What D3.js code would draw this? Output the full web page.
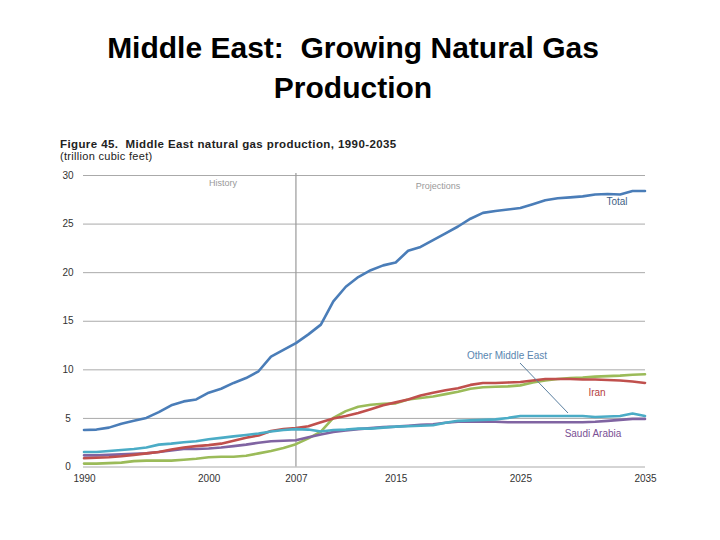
<!DOCTYPE html>
<html><head><meta charset="utf-8">
<script src="https://cdn.jsdelivr.net/npm/d3@7"></script>
<style>
html,body{margin:0;padding:0;background:#fff;}
svg{display:block;}
</style></head>
<body>
<svg id="chart" width="720" height="540"></svg>
<script>
const years = d3.range(1990, 2036);
const xTickYears = [1990, 2000, 2007, 2015, 2025, 2035];
const yTicks = [0, 5, 10, 15, 20, 25, 30];

const total = [3.75,3.8,4.0,4.4,4.7,5.0,5.6,6.3,6.7,6.9,7.6,8.0,8.6,9.1,9.8,11.3,12.0,12.7,13.6,14.6,17.0,18.5,19.5,20.2,20.7,21.0,22.2,22.6,23.3,24.0,24.7,25.5,26.1,26.3,26.45,26.6,27.0,27.4,27.6,27.7,27.8,28.0,28.05,28.0,28.35,28.35];
const otherME = [1.5,1.5,1.6,1.7,1.8,1.95,2.25,2.35,2.5,2.6,2.8,2.95,3.1,3.25,3.4,3.6,3.75,3.85,3.8,3.6,3.75,3.8,3.9,3.9,4.0,4.1,4.15,4.2,4.25,4.5,4.7,4.75,4.8,4.85,5.0,5.2,5.2,5.2,5.2,5.2,5.2,5.1,5.15,5.2,5.45,5.2];
const iran = [0.85,0.9,0.95,1.05,1.2,1.35,1.5,1.75,1.95,2.1,2.2,2.35,2.65,2.95,3.2,3.65,3.85,3.95,4.15,4.55,4.95,5.2,5.5,5.9,6.3,6.6,6.9,7.3,7.6,7.85,8.05,8.4,8.6,8.6,8.65,8.7,8.85,9.0,9.0,9.0,8.95,8.95,8.9,8.85,8.75,8.6];
const saudi = [1.15,1.15,1.2,1.25,1.3,1.35,1.5,1.65,1.8,1.8,1.85,1.95,2.1,2.25,2.45,2.6,2.65,2.7,3.0,3.3,3.55,3.7,3.85,3.95,4.05,4.1,4.2,4.3,4.35,4.5,4.6,4.6,4.6,4.6,4.55,4.55,4.55,4.55,4.55,4.55,4.55,4.6,4.7,4.8,4.9,4.9];
const qatar = [0.3,0.3,0.35,0.4,0.55,0.6,0.6,0.6,0.7,0.8,0.95,1.0,1.0,1.1,1.35,1.6,1.9,2.3,2.9,3.6,5.0,5.7,6.15,6.35,6.45,6.5,6.9,7.05,7.2,7.45,7.7,8.0,8.15,8.2,8.25,8.35,8.65,8.85,9.0,9.1,9.15,9.25,9.3,9.35,9.45,9.5];

const seriesNames = ["Qatar","Saudi Arabia","Iran","Other Middle East","Total"];
const seriesValues = [qatar, saudi, iran, otherME, total];
const seriesColors = ["#9BBB59","#8064A2","#C0504D","#4BACC6","#4A7DB8"];

const FONT = "Liberation Sans, Arial, sans-serif";
const svg = d3.select("#chart");
const x = d3.scaleLinear().domain([1990, 2035]).range([84, 645]);
const y = d3.scaleLinear().domain([0, 30]).range([466.5, 175]);

// Slide title
svg.append("text").attr("x", 353).attr("y", 58).attr("text-anchor", "middle")
  .attr("font-family", FONT).attr("font-size", 30).attr("font-weight", "bold")
  .attr("fill", "#000").style("white-space","pre")
  .text("Middle East:  Growing Natural Gas");
svg.append("text").attr("x", 353).attr("y", 98).attr("text-anchor", "middle")
  .attr("font-family", FONT).attr("font-size", 30).attr("font-weight", "bold")
  .attr("fill", "#000").text("Production");

// Figure title
svg.append("text").attr("x", 60).attr("y", 148)
  .attr("font-family", FONT).attr("font-size", 11.5).attr("letter-spacing", 0.4)
  .attr("font-weight", "bold").attr("fill", "#222").style("white-space","pre")
  .text("Figure 45.  Middle East natural gas production, 1990-2035");
svg.append("text").attr("x", 60).attr("y", 159.5)
  .attr("font-family", FONT).attr("font-size", 11).attr("letter-spacing", 0.3)
  .attr("fill", "#222").text("(trillion cubic feet)");

// Grid + y axis
const yAxis = d3.axisLeft(y).tickValues(yTicks).tickSize(-(645 - 83)).tickPadding(8);
const gy = svg.append("g").attr("transform", "translate(83,0)").call(yAxis);
gy.select(".domain").remove();
gy.selectAll(".tick line").attr("stroke", "#aaa").attr("stroke-width", 1);
gy.selectAll(".tick text").attr("font-family", FONT)
  .attr("font-size", 10).attr("fill", "#333").attr("text-anchor", "middle").attr("x", -15);

// x axis labels
const xAxis = d3.axisBottom(x).tickValues(xTickYears).tickFormat(d3.format("d")).tickSize(0).tickPadding(8);
const gx = svg.append("g").attr("transform", "translate(0,466.5)").call(xAxis);
gx.select(".domain").remove();
gx.selectAll(".tick text").attr("font-family", FONT)
  .attr("font-size", 10).attr("fill", "#333");

// History / projections divider
svg.append("line").attr("x1", x(2007)).attr("x2", x(2007)).attr("y1", 173).attr("y2", 466.5)
  .attr("stroke", "#999").attr("stroke-width", 1.2);
svg.append("text").attr("x", 223).attr("y", 186).attr("text-anchor", "middle")
  .attr("font-family", FONT).attr("font-size", 9).attr("fill", "#999").text("History");
svg.append("text").attr("x", 438).attr("y", 189).attr("text-anchor", "middle")
  .attr("font-family", FONT).attr("font-size", 9).attr("fill", "#999").text("Projections");

// Lines
const line = d3.line().x((d, i) => x(years[i])).y(d => y(d)).curve(d3.curveLinear);
seriesValues.forEach((vals, k) => {
  svg.append("path").datum(vals).attr("d", line)
    .attr("fill", "none").attr("stroke", seriesColors[k]).attr("stroke-width", 2.6)
    .attr("stroke-linejoin", "round").attr("stroke-linecap", "round");
});

// Labels
svg.append("text").attr("x", 617).attr("y", 205).attr("text-anchor", "middle")
  .attr("font-family", FONT).attr("font-size", 10).attr("fill", "#3f5f85").text("Total");
svg.append("text").attr("x", 507).attr("y", 359).attr("text-anchor", "middle")
  .attr("font-family", FONT).attr("font-size", 10).attr("fill", "#5a86b0").text("Other Middle East");
svg.append("line").attr("x1", 520).attr("y1", 363).attr("x2", 568).attr("y2", 413)
  .attr("stroke", "#5a7fa0").attr("stroke-width", 1);
svg.append("text").attr("x", 597).attr("y", 396).attr("text-anchor", "middle")
  .attr("font-family", FONT).attr("font-size", 10).attr("fill", "#b5403d").text("Iran");
svg.append("text").attr("x", 593).attr("y", 437).attr("text-anchor", "middle")
  .attr("font-family", FONT).attr("font-size", 10).attr("fill", "#7a4f94").text("Saudi Arabia");
</script>
</body></html>
